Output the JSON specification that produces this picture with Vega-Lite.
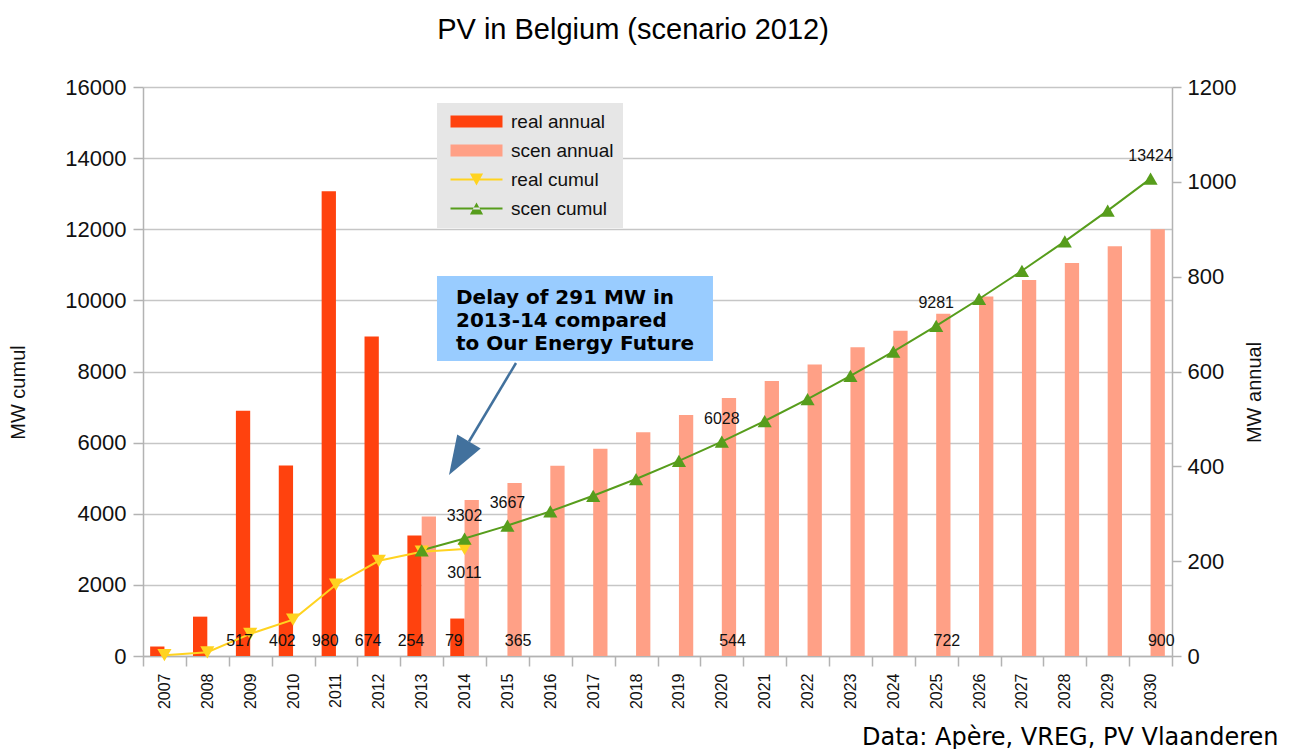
{
  "$schema": "https://vega.github.io/schema/vega-lite/v6.json",
  "width": 1029,
  "height": 569,
  "autosize": {"type": "none"},
  "padding": {"left": 143, "top": 87, "right": 120, "bottom": 93},
  "background": "white",
  "title": {
    "text": "PV in Belgium (scenario 2012)",
    "font": "Liberation Sans",
    "fontSize": 29,
    "fontWeight": "normal",
    "color": "#000000",
    "anchor": "middle",
    "frame": "bounds",
    "baseline": "alphabetic",
    "offset": 8,
    "dx": -10
  },
  "config": {
    "view": {"stroke": null},
    "font": "Liberation Sans",
    "axis": {
      "labelFont": "Liberation Sans",
      "titleFont": "Liberation Sans",
      "labelColor": "#111111",
      "titleColor": "#111111",
      "domainColor": "#b3b3b3",
      "tickColor": "#b3b3b3",
      "gridColor": "#c6c6c6",
      "domainWidth": 1.5,
      "tickWidth": 1.5,
      "gridWidth": 1.5,
      "titleFontWeight": "normal"
    }
  },
  "datasets": {
    "annual": [
      {"year": 2007, "series": "real annual", "value": 20},
      {"year": 2008, "series": "real annual", "value": 83},
      {"year": 2009, "series": "real annual", "value": 517},
      {"year": 2010, "series": "real annual", "value": 402},
      {"year": 2011, "series": "real annual", "value": 980},
      {"year": 2012, "series": "real annual", "value": 674},
      {"year": 2013, "series": "real annual", "value": 254},
      {"year": 2014, "series": "real annual", "value": 79},
      {"year": 2013, "series": "scen annual", "value": 294},
      {"year": 2014, "series": "scen annual", "value": 329},
      {"year": 2015, "series": "scen annual", "value": 365},
      {"year": 2016, "series": "scen annual", "value": 401},
      {"year": 2017, "series": "scen annual", "value": 437},
      {"year": 2018, "series": "scen annual", "value": 472},
      {"year": 2019, "series": "scen annual", "value": 508},
      {"year": 2020, "series": "scen annual", "value": 544},
      {"year": 2021, "series": "scen annual", "value": 580},
      {"year": 2022, "series": "scen annual", "value": 615},
      {"year": 2023, "series": "scen annual", "value": 651},
      {"year": 2024, "series": "scen annual", "value": 686},
      {"year": 2025, "series": "scen annual", "value": 722},
      {"year": 2026, "series": "scen annual", "value": 758},
      {"year": 2027, "series": "scen annual", "value": 793},
      {"year": 2028, "series": "scen annual", "value": 829},
      {"year": 2029, "series": "scen annual", "value": 864},
      {"year": 2030, "series": "scen annual", "value": 900}
    ],
    "cumul": [
      {"year": 2007, "series": "real cumul", "value": 22},
      {"year": 2008, "series": "real cumul", "value": 105},
      {"year": 2009, "series": "real cumul", "value": 622},
      {"year": 2010, "series": "real cumul", "value": 1024},
      {"year": 2011, "series": "real cumul", "value": 2004},
      {"year": 2012, "series": "real cumul", "value": 2678},
      {"year": 2013, "series": "real cumul", "value": 2932},
      {"year": 2014, "series": "real cumul", "value": 3011},
      {"year": 2013, "series": "scen cumul", "value": 2973},
      {"year": 2014, "series": "scen cumul", "value": 3302},
      {"year": 2015, "series": "scen cumul", "value": 3667},
      {"year": 2016, "series": "scen cumul", "value": 4068},
      {"year": 2017, "series": "scen cumul", "value": 4505},
      {"year": 2018, "series": "scen cumul", "value": 4977},
      {"year": 2019, "series": "scen cumul", "value": 5485},
      {"year": 2020, "series": "scen cumul", "value": 6028},
      {"year": 2021, "series": "scen cumul", "value": 6608},
      {"year": 2022, "series": "scen cumul", "value": 7223},
      {"year": 2023, "series": "scen cumul", "value": 7874},
      {"year": 2024, "series": "scen cumul", "value": 8560},
      {"year": 2025, "series": "scen cumul", "value": 9281},
      {"year": 2026, "series": "scen cumul", "value": 10039},
      {"year": 2027, "series": "scen cumul", "value": 10832},
      {"year": 2028, "series": "scen cumul", "value": 11661},
      {"year": 2029, "series": "scen cumul", "value": 12525},
      {"year": 2030, "series": "scen cumul", "value": 13424}
    ]
  },
  "layer": [
    {
      "data": {"name": "annual"},
      "mark": {"type": "bar"},
      "encoding": {
        "x": {
          "field": "year", "type": "ordinal",
          "scale": {"type": "band", "domain": [2007,2008,2009,2010,2011,2012,2013,2014,2015,2016,2017,2018,2019,2020,2021,2022,2023,2024,2025,2026,2027,2028,2029,2030], "paddingInner": 0, "paddingOuter": 0},
          "axis": {
            "orient": "bottom", "labelAngle": 270, "labelAlign": "right", "labelBaseline": "middle",
            "labelFontSize": 16, "labelPadding": 7, "tickBand": "extent", "tickSize": 10, "grid": false,
            "title": "Data: Apère, VREG, PV Vlaanderen", "titleFont": "DejaVu Sans", "titleFontSize": 24,
            "titleColor": "#000000", "titleAnchor": "end", "titleAlign": "right", "titleBaseline": "alphabetic",
            "titleX": 1135, "titleY": 88
          }
        },
        "xOffset": {"field": "series", "type": "nominal", "scale": {"domain": ["real annual", "scen annual"], "paddingInner": 0, "paddingOuter": 0.5}},
        "y": {
          "field": "value", "type": "quantitative",
          "scale": {"domain": [0, 1200], "nice": false},
          "axis": {
            "orient": "right", "values": [0,200,400,600,800,1000,1200], "format": "d", "grid": false,
            "labelFontSize": 22, "tickSize": 9, "labelPadding": 6,
            "title": "MW annual", "titleFontSize": 20, "titleAngle": 270, "titleX": 82, "titleY": 305,
            "titleAlign": "center", "titleBaseline": "middle"
          }
        },
        "color": {
          "field": "series", "type": "nominal",
          "scale": {"domain": ["real annual", "scen annual", "real cumul", "scen cumul"], "range": ["#ff420e", "#ffa086", "#ffd320", "#579d1c"]},
          "legend": {
            "orient": "none", "legendX": 294, "legendY": 16, "title": null,
            "fillColor": "#e6e6e6", "padding": 9,
            "labelFont": "Liberation Sans", "labelFontSize": 19, "labelColor": "#111111",
            "labelOffset": 46, "rowPadding": 9, "symbolSize": 144, "symbolStrokeWidth": 0, "symbolOpacity": 1,
            "encode": {
              "symbols": {
                "update": {
                  "shape": {"signal": "datum.value === 'real annual' || datum.value === 'scen annual' ? 'M-0.8333,-1H7.8333V1H-0.8333Z' : (datum.value === 'real cumul' ? 'M-0.8333,-0.17H7.8333V0.17H-0.8333Z M2.4,-1H4.6L3.5,1Z' : 'M-0.8333,-0.17H7.8333V0.17H-0.8333Z M2.4,1H4.6L3.5,-1Z')"},
                  "fill": {"scale": "color", "field": "value"},
                  "stroke": {"value": "transparent"},
                  "strokeWidth": {"value": 0},
                  "opacity": {"value": 1},
                  "size": {"value": 144}
                }
              }
            }
          }
        }
      }
    },
    {
      "layer": [
        {
          "data": {"name": "cumul"},
          "mark": {"type": "line", "strokeWidth": 2},
          "encoding": {
            "x": {"field": "year", "type": "ordinal", "scale": {"type": "band", "domain": [2007,2008,2009,2010,2011,2012,2013,2014,2015,2016,2017,2018,2019,2020,2021,2022,2023,2024,2025,2026,2027,2028,2029,2030], "paddingInner": 0, "paddingOuter": 0}, "axis": null},
            "y": {
              "field": "value", "type": "quantitative",
              "scale": {"domain": [0, 16000], "nice": false},
              "axis": {
                "orient": "left", "values": [0,2000,4000,6000,8000,10000,12000,14000,16000], "format": "d", "grid": true,
                "labelFontSize": 22, "tickSize": 10, "labelPadding": 7,
                "title": "MW cumul", "titleFontSize": 20, "titleAngle": 270, "titleX": -125, "titleY": 305,
                "titleAlign": "center", "titleBaseline": "middle"
              }
            },
            "color": {"field": "series", "type": "nominal"}
          }
        },
        {
          "data": {"name": "cumul"},
          "mark": {"type": "point", "filled": true, "opacity": 1, "size": 200},
          "encoding": {
            "x": {"field": "year", "type": "ordinal", "axis": null},
            "y": {"field": "value", "type": "quantitative"},
            "color": {"field": "series", "type": "nominal"},
            "shape": {"field": "series", "type": "nominal", "scale": {"domain": ["real cumul", "scen cumul"], "range": ["triangle-down", "triangle-up"]}, "legend": null}
          }
        },
        {
          "data": {"name": "annual"},
          "transform": [
            {"filter": "(datum.series === 'real annual' && datum.year >= 2009) || (datum.series === 'scen annual' && (datum.year === 2015 || datum.year === 2020 || datum.year === 2025 || datum.year === 2030))"}
          ],
          "mark": {"type": "text", "font": "Liberation Sans", "fontSize": 16, "color": "#111111", "baseline": "alphabetic", "dy": -10},
          "encoding": {
            "x": {"field": "year", "type": "ordinal", "axis": null},
            "xOffset": {"field": "series", "type": "nominal", "scale": {"domain": ["real annual", "scen annual"], "paddingInner": 0, "paddingOuter": 0.5}},
            "y": {"datum": 0, "type": "quantitative"},
            "text": {"field": "value", "type": "quantitative", "format": "d"}
          }
        },
        {
          "data": {"name": "cumul"},
          "transform": [
            {"filter": "datum.series === 'scen cumul' && (datum.year === 2014 || datum.year === 2015 || datum.year === 2020 || datum.year === 2025 || datum.year === 2030)"}
          ],
          "mark": {"type": "text", "font": "Liberation Sans", "fontSize": 16, "color": "#111111", "baseline": "alphabetic", "dy": -18},
          "encoding": {
            "x": {"field": "year", "type": "ordinal", "axis": null},
            "y": {"field": "value", "type": "quantitative"},
            "text": {"field": "value", "type": "quantitative", "format": "d"}
          }
        },
        {
          "data": {"name": "cumul"},
          "transform": [
            {"filter": "datum.series === 'real cumul' && datum.year === 2014"}
          ],
          "mark": {"type": "text", "font": "Liberation Sans", "fontSize": 16, "color": "#111111", "baseline": "alphabetic", "dy": 29},
          "encoding": {
            "x": {"field": "year", "type": "ordinal", "axis": null},
            "y": {"field": "value", "type": "quantitative"},
            "text": {"field": "value", "type": "quantitative", "format": "d"}
          }
        }
      ]
    },
    {
      "data": {"values": [{}]},
      "layer": [
        {
          "mark": {"type": "rect", "color": "#99ccff"},
          "encoding": {
            "x": {"datum": 2013.357, "type": "quantitative", "scale": {"domain": [2006.5, 2030.5], "nice": false, "zero": false}, "axis": null},
            "x2": {"datum": 2019.794},
            "y": {"datum": 10685, "type": "quantitative", "scale": {"domain": [0, 16000], "nice": false}, "axis": null},
            "y2": {"datum": 8295}
          }
        },
        {
          "mark": {"type": "text", "text": ["Delay of 291 MW in", "2013-14 compared", "to Our Energy Future"], "font": "DejaVu Sans", "fontWeight": "bold", "fontSize": 20, "lineHeight": 23, "align": "left", "baseline": "alphabetic", "color": "#000000"},
          "encoding": {
            "x": {"datum": 2013.80, "type": "quantitative", "axis": null},
            "y": {"datum": 9898, "type": "quantitative", "axis": null}
          }
        },
        {
          "mark": {"type": "rule", "color": "#42719d", "strokeWidth": 2.5},
          "encoding": {
            "x": {"datum": 2015.20, "type": "quantitative", "axis": null},
            "y": {"datum": 8239, "type": "quantitative", "axis": null},
            "x2": {"datum": 2014.104},
            "y2": {"datum": 6032}
          }
        },
        {
          "mark": {"type": "point", "shape": "M0,0L0.35,1L-0.35,1Z", "size": 6084, "angle": 210.8, "filled": true, "opacity": 1, "color": "#42719d"},
          "encoding": {
            "x": {"datum": 2013.637, "type": "quantitative", "axis": null},
            "y": {"datum": 5090, "type": "quantitative", "axis": null}
          }
        }
      ]
    }
  ],
  "resolve": {"scale": {"x": "independent", "y": "independent", "xOffset": "independent"}}
}
